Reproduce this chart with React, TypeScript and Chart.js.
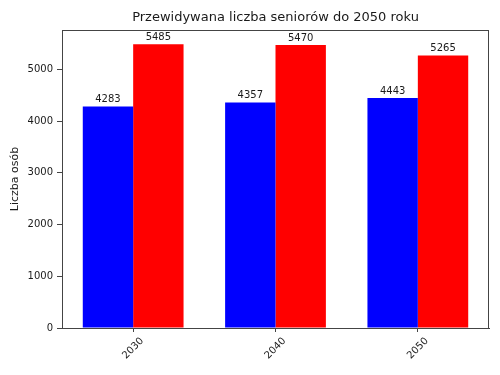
import React, { useEffect, useRef } from "react";
import { Chart, registerables } from "chart.js";

Chart.register(...registerables);

const categories = ["2030", "2040", "2050"];
const blueValues = [4283, 4357, 4443];
const redValues = [5485, 5470, 5265];
const yTicks = [0, 1000, 2000, 3000, 4000, 5000];
const titleText = "Przewidywana liczba seniorów do 2050 roku";
const yLabel = "Liczba osób";

const FONT = "'DejaVu Sans', Verdana, sans-serif";
const TEXT = "#1a1a1a";

const customPlugin = {
  id: "custom",
  afterDraw(chart: any) {
    const ctx = chart.ctx;
    const area = chart.chartArea;
    ctx.save();
    // frame
    ctx.strokeStyle = "#444";
    ctx.lineWidth = 1;
    ctx.strokeRect(area.left + 0.5, area.top + 0.5, area.right - area.left - 1, area.bottom - area.top);
    // title centered over the plot area
    ctx.fillStyle = TEXT;
    ctx.font = `13px ${FONT}`;
    ctx.textAlign = "center";
    ctx.textBaseline = "middle";
    ctx.fillText(titleText, (area.left + area.right) / 2, 18);
    // value labels
    ctx.font = `10px ${FONT}`;
    ctx.textAlign = "center";
    ctx.textBaseline = "bottom";
    chart.data.datasets.forEach((ds: any, di: number) => {
      const meta = chart.getDatasetMeta(di);
      meta.data.forEach((bar: any, i: number) => {
        ctx.fillText(String(ds.data[i]), bar.x, bar.y - 2);
      });
    });
    // x tick labels rotated 45, centered like matplotlib
    const xs = chart.scales.x;
    ctx.font = `10px ${FONT}`;
    ctx.textAlign = "center";
    ctx.textBaseline = "middle";
    const h = 10;
    categories.forEach((c, i) => {
      const x = xs.getPixelForValue(i);
      const w = ctx.measureText(c).width;
      const top = area.bottom + 8;
      const cy = top + (w + h) / (2 * Math.SQRT2);
      ctx.save();
      ctx.translate(x, cy);
      ctx.rotate(-Math.PI / 4);
      ctx.fillText(c, 0, 0);
      ctx.restore();
    });
    ctx.restore();
  },
};

export default function App() {
  const ref = useRef<HTMLCanvasElement>(null);
  useEffect(() => {
    const chart = new Chart(ref.current as HTMLCanvasElement, {
      type: "bar",
      data: {
        labels: categories,
        datasets: [
          {
            data: blueValues,
            backgroundColor: "#0000ff",
            categoryPercentage: 0.708,
            barPercentage: 1,
          },
          {
            data: redValues,
            backgroundColor: "#ff0000",
            categoryPercentage: 0.708,
            barPercentage: 1,
          },
        ],
      },
      options: {
        animation: false,
        responsive: false,
        layout: { padding: { left: 0, right: 11, top: 30, bottom: 0 } },
        plugins: {
          legend: { display: false },
          tooltip: { enabled: false },
          title: { display: false },
        },
        scales: {
          x: {
            type: "category",
            offset: true,
            grid: { display: true, drawOnChartArea: false, drawTicks: true, tickLength: 4, offset: false, color: "#444" },
            border: { display: true, color: "#444" },
            ticks: { display: false },
            afterFit: (s: any) => {
              s.height = 47;
            },
          },
          y: {
            min: 0,
            max: 5759,
            grid: { display: true, drawOnChartArea: false, drawTicks: true, tickLength: 5, color: "#444" },
            border: { display: true, color: "#444" },
            ticks: {
              stepSize: 1000,
              padding: 4,
              color: TEXT,
              font: { family: FONT, size: 10 },
              callback: (v: any) => String(v),
            },
            afterBuildTicks: (s: any) => {
              s.ticks = yTicks.map((v) => ({ value: v }));
            },
            title: {
              display: true,
              text: yLabel,
              color: TEXT,
              font: { family: FONT, size: 11 },
              padding: { top: 9, bottom: 0 },
            },
            afterFit: (s: any) => {
              s.width = 62;
            },
          },
        },
      },
      plugins: [customPlugin],
    } as any);
    return () => chart.destroy();
  }, []);
  return (
    <div style={{ position: "fixed", left: 0, top: 0, width: 500, height: 375, background: "#fff" }}>
      <canvas ref={ref} width={500} height={375} />
    </div>
  );
}
